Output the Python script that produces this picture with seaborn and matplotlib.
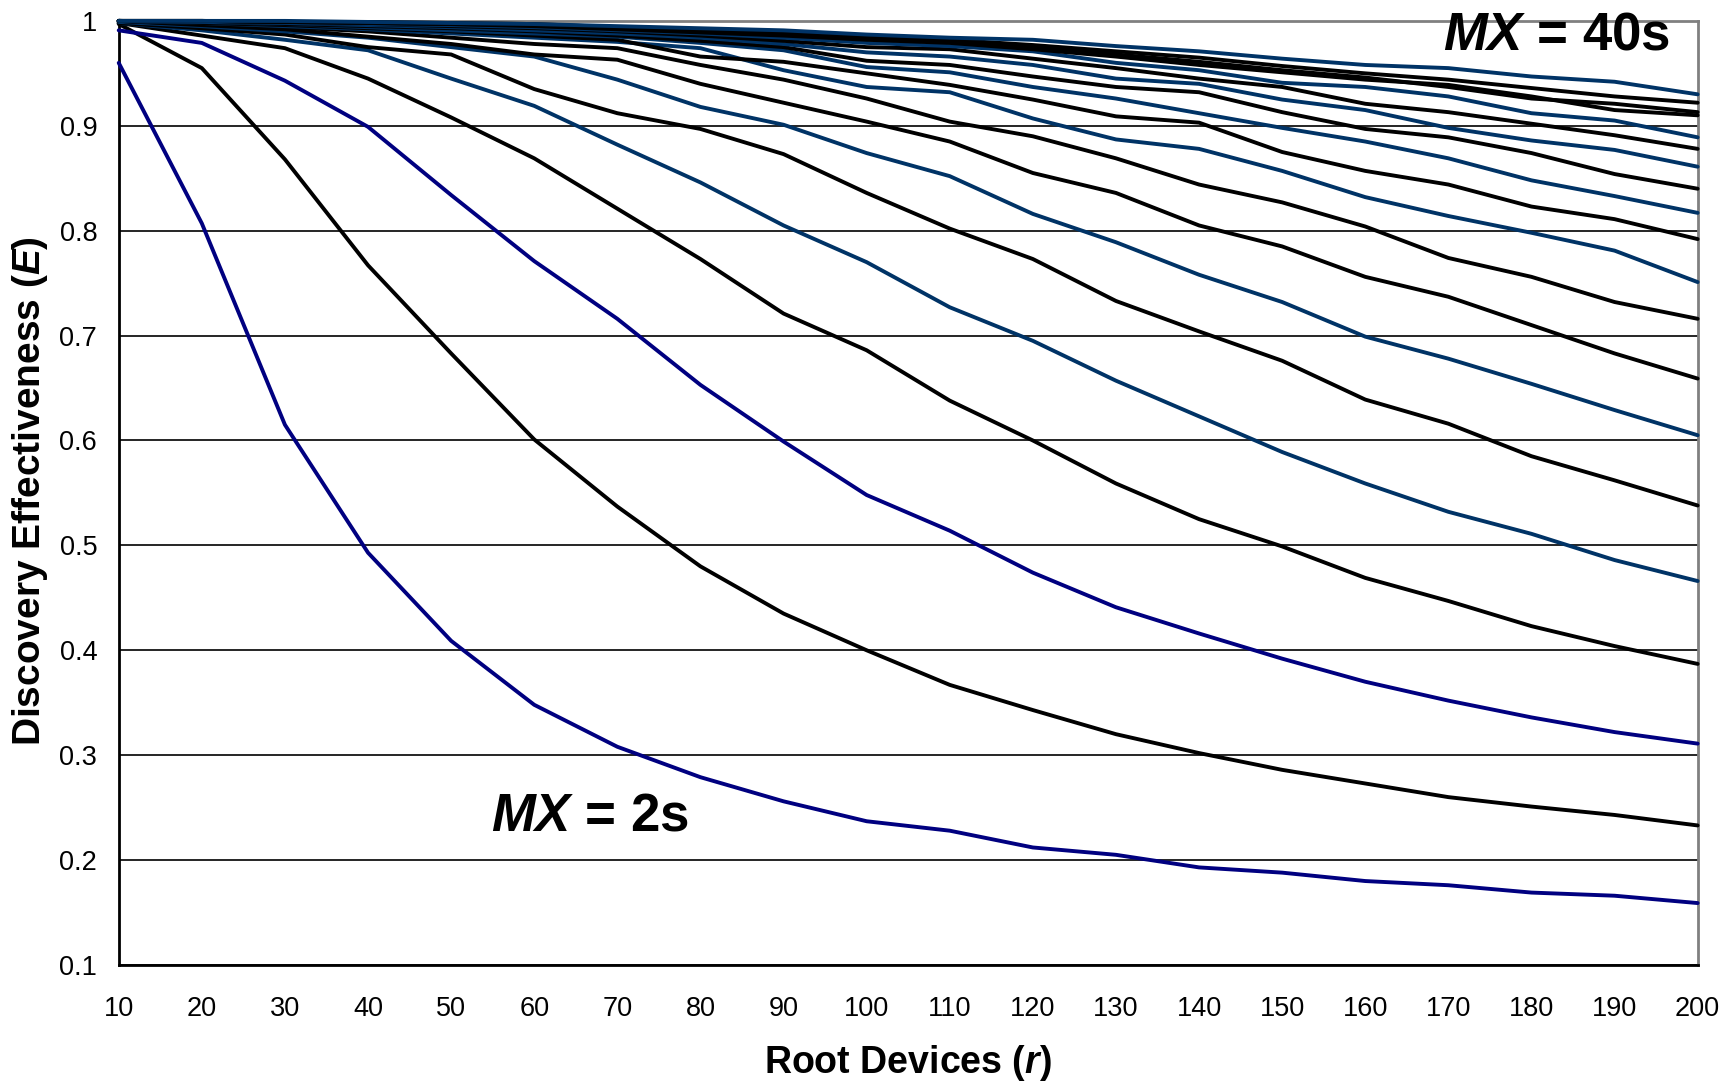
import numpy as np
import pandas as pd
import matplotlib
matplotlib.use("Agg")
import matplotlib.pyplot as plt
import seaborn as sns
from matplotlib.ticker import FixedLocator, FuncFormatter

# ---------------- data ----------------
root_devices = [10, 20, 30, 40, 50, 60, 70, 80, 90, 100,
                110, 120, 130, 140, 150, 160, 170, 180, 190, 200]
mx_labels = ["2s", "4s", "6s", "8s", "10s", "12s", "14s", "16s", "18s", "20s",
             "22s", "24s", "26s", "28s", "30s", "32s", "34s", "36s", "38s", "40s"]

e_mx02 = [0.960, 0.807, 0.615, 0.493, 0.409, 0.348, 0.308, 0.279, 0.256, 0.237, 0.228, 0.212, 0.205, 0.193, 0.188, 0.180, 0.176, 0.169, 0.166, 0.159]
e_mx04 = [0.997, 0.955, 0.868, 0.767, 0.683, 0.601, 0.537, 0.480, 0.435, 0.400, 0.367, 0.343, 0.320, 0.302, 0.286, 0.273, 0.260, 0.251, 0.243, 0.233]
e_mx06 = [0.991, 0.979, 0.943, 0.899, 0.834, 0.771, 0.716, 0.653, 0.599, 0.548, 0.514, 0.474, 0.441, 0.416, 0.392, 0.370, 0.352, 0.336, 0.322, 0.311]
e_mx08 = [0.998, 0.986, 0.974, 0.945, 0.908, 0.869, 0.821, 0.773, 0.721, 0.686, 0.638, 0.600, 0.559, 0.525, 0.499, 0.469, 0.447, 0.423, 0.404, 0.387]
e_mx10 = [0.998, 0.991, 0.982, 0.972, 0.945, 0.919, 0.882, 0.846, 0.805, 0.770, 0.727, 0.695, 0.657, 0.623, 0.589, 0.559, 0.532, 0.511, 0.486, 0.466]
e_mx12 = [0.998, 0.993, 0.987, 0.975, 0.968, 0.935, 0.912, 0.897, 0.873, 0.836, 0.802, 0.773, 0.733, 0.704, 0.676, 0.639, 0.616, 0.585, 0.562, 0.538]
e_mx14 = [0.999, 0.995, 0.990, 0.984, 0.975, 0.966, 0.944, 0.918, 0.901, 0.874, 0.852, 0.816, 0.789, 0.758, 0.732, 0.699, 0.678, 0.654, 0.629, 0.605]
e_mx16 = [1.000, 0.996, 0.992, 0.985, 0.978, 0.968, 0.963, 0.940, 0.922, 0.904, 0.885, 0.855, 0.836, 0.805, 0.785, 0.756, 0.737, 0.710, 0.683, 0.659]
e_mx18 = [1.000, 0.997, 0.994, 0.990, 0.984, 0.978, 0.974, 0.958, 0.944, 0.926, 0.904, 0.890, 0.869, 0.844, 0.827, 0.804, 0.774, 0.756, 0.732, 0.716]
e_mx20 = [1.000, 0.998, 0.995, 0.992, 0.988, 0.984, 0.980, 0.974, 0.953, 0.937, 0.932, 0.907, 0.887, 0.878, 0.857, 0.832, 0.814, 0.798, 0.781, 0.751]
e_mx22 = [1.000, 0.998, 0.996, 0.993, 0.990, 0.986, 0.982, 0.966, 0.961, 0.950, 0.939, 0.925, 0.909, 0.903, 0.875, 0.857, 0.844, 0.823, 0.811, 0.792]
e_mx24 = [1.000, 0.999, 0.997, 0.994, 0.991, 0.988, 0.985, 0.979, 0.972, 0.956, 0.951, 0.937, 0.926, 0.912, 0.898, 0.885, 0.869, 0.848, 0.833, 0.817]
e_mx26 = [1.000, 0.999, 0.997, 0.995, 0.993, 0.990, 0.986, 0.981, 0.975, 0.962, 0.958, 0.947, 0.937, 0.932, 0.913, 0.897, 0.889, 0.874, 0.854, 0.840]
e_mx28 = [1.000, 0.999, 0.998, 0.996, 0.994, 0.991, 0.988, 0.984, 0.978, 0.970, 0.966, 0.958, 0.945, 0.940, 0.925, 0.915, 0.898, 0.886, 0.877, 0.861]
e_mx30 = [1.000, 0.999, 0.998, 0.997, 0.995, 0.993, 0.990, 0.986, 0.981, 0.975, 0.973, 0.964, 0.955, 0.945, 0.937, 0.921, 0.913, 0.902, 0.891, 0.878]
e_mx32 = [1.000, 0.999, 0.998, 0.997, 0.996, 0.994, 0.991, 0.988, 0.984, 0.979, 0.976, 0.971, 0.960, 0.953, 0.941, 0.937, 0.928, 0.912, 0.905, 0.889]
e_mx34 = [1.000, 1.000, 0.999, 0.998, 0.997, 0.995, 0.992, 0.989, 0.986, 0.982, 0.979, 0.973, 0.966, 0.958, 0.951, 0.944, 0.939, 0.928, 0.915, 0.910]
e_mx36 = [1.000, 1.000, 0.999, 0.998, 0.997, 0.996, 0.993, 0.990, 0.987, 0.983, 0.980, 0.975, 0.968, 0.961, 0.953, 0.946, 0.937, 0.926, 0.921, 0.913]
e_mx38 = [1.000, 1.000, 0.999, 0.999, 0.998, 0.997, 0.994, 0.991, 0.989, 0.985, 0.982, 0.977, 0.971, 0.965, 0.957, 0.950, 0.944, 0.936, 0.928, 0.922]
e_mx40 = [1.000, 1.000, 1.000, 0.999, 0.998, 0.997, 0.995, 0.993, 0.991, 0.987, 0.984, 0.982, 0.976, 0.971, 0.964, 0.958, 0.955, 0.947, 0.942, 0.930]

y_ticks = [0.1, 0.2, 0.3, 0.4, 0.5, 0.6, 0.7, 0.8, 0.9, 1.0]

all_series = [e_mx02, e_mx04, e_mx06, e_mx08, e_mx10, e_mx12, e_mx14, e_mx16,
              e_mx18, e_mx20, e_mx22, e_mx24, e_mx26, e_mx28, e_mx30, e_mx32,
              e_mx34, e_mx36, e_mx38, e_mx40]

# ---------------- style ----------------
NAVY = "#000080"
STEEL = "#003366"
BLACK = "#000000"
line_colors = [NAVY, BLACK, NAVY, BLACK, STEEL, BLACK, STEEL, BLACK, BLACK, STEEL,
               BLACK, STEEL, BLACK, STEEL, BLACK, STEEL, BLACK, BLACK, BLACK, STEEL]

sns.set_style("white")
plt.rcParams["font.family"] = ["Liberation Sans", "DejaVu Sans"]
plt.rcParams["text.color"] = "black"
plt.rcParams["axes.labelcolor"] = "black"
plt.rcParams["xtick.color"] = "black"
plt.rcParams["ytick.color"] = "black"
plt.rcParams["mathtext.fontset"] = "custom"
plt.rcParams["mathtext.it"] = "Liberation Sans:italic:bold"
plt.rcParams["mathtext.rm"] = "Liberation Sans:bold"
plt.rcParams["mathtext.bf"] = "Liberation Sans:bold"

rows = []
for lab, vals in zip(mx_labels, all_series):
    for r, e in zip(root_devices, vals):
        rows.append({"MX": lab, "r": r, "E": e})
df = pd.DataFrame(rows)

fig = plt.figure(figsize=(17.23, 10.83), dpi=100)
ax = fig.add_axes([0.0689, 0.1090, 0.9164, 0.8717])

sns.lineplot(data=df, x="r", y="E", hue="MX", hue_order=mx_labels,
             palette=dict(zip(mx_labels, line_colors)), linewidth=2.8,
             legend=False, ax=ax, estimator=None, sort=False)
for ln in ax.get_lines():
    ln.set_clip_on(False)
    ln.set_zorder(3)
    ln.set_solid_joinstyle("round")

ax.set_xlim(10, 200)
ax.set_ylim(0.1, 1.0)
ax.xaxis.set_major_locator(FixedLocator(root_devices))
ax.yaxis.set_major_locator(FixedLocator(y_ticks))
ax.yaxis.set_major_formatter(FuncFormatter(lambda v, p: f"{v:g}"))

ax.yaxis.grid(True, color="black", linewidth=1.2, zorder=1)
ax.xaxis.grid(False)
ax.set_axisbelow(True)

for side in ["left", "bottom"]:
    ax.spines[side].set_color("black")
    ax.spines[side].set_linewidth(2.0)
for side in ["top", "right"]:
    ax.spines[side].set_color("#808080")
    ax.spines[side].set_linewidth(2.0)

ax.tick_params(axis="both", direction="out", length=6.5, width=1.5,
               colors="black", labelsize=19.5)
ax.tick_params(axis="x", pad=16)
ax.tick_params(axis="y", pad=9)

ax.set_xlabel(r"Root Devices ($r$)", fontsize=27, fontweight="bold")
ax.xaxis.set_label_coords(0.5, -0.1038)
ax.xaxis.label.set_va("center")
ax.set_ylabel(r"Discovery Effectiveness ($E$)", fontsize=28, fontweight="bold")
ax.yaxis.set_label_coords(-0.0564, 0.502)
ax.yaxis.label.set_va("center")

ax.text(54.8, 0.242, r"$MX$ = 2s", fontsize=38, fontweight="bold",
        ha="left", va="center", zorder=5)
ax.text(196.7, 0.9865, r"$MX$ = 40s", fontsize=38, fontweight="bold",
        ha="right", va="center", zorder=5)

fig.savefig("out.png", dpi=100)
